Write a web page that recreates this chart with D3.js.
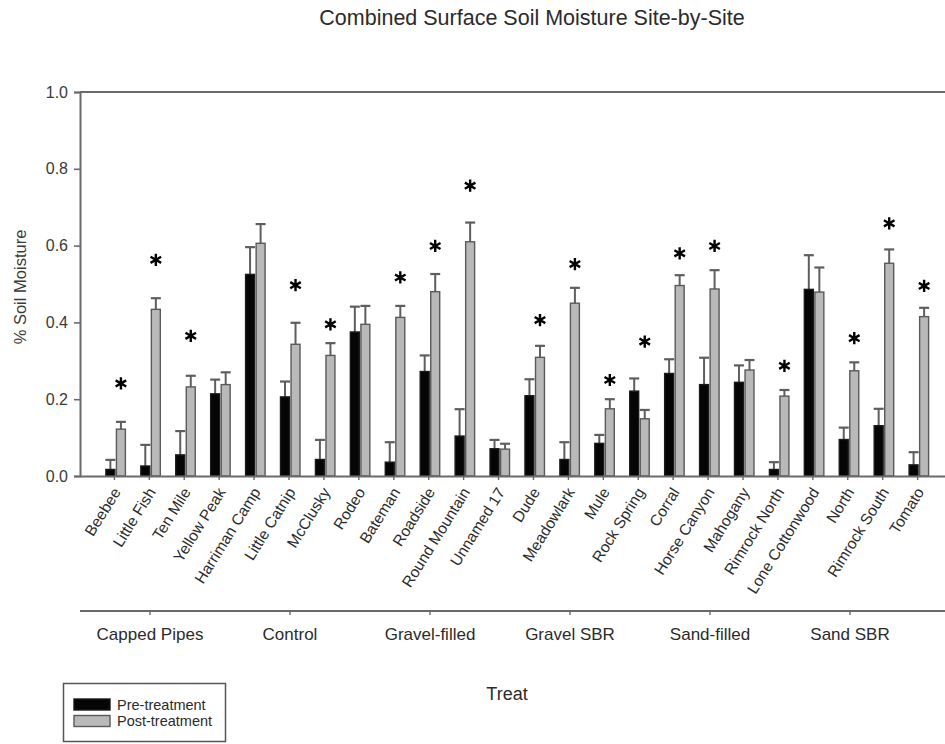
<!DOCTYPE html>
<html>
<head>
<meta charset="utf-8">
<script src="https://cdn.jsdelivr.net/npm/d3@7"></script>
<style>
  html, body { margin: 0; padding: 0; background: #fff; }
  svg { display: block; font-family: "Liberation Sans", Arial, sans-serif; }
</style>
</head>
<body>
<svg id="chart" width="945" height="744"></svg>
<script>
// Sites, in plotting order (grouped by treatment)
const sites = ["Beebee", "Little Fish", "Ten Mile", "Yellow Peak", "Harriman Camp", "Little Catnip",
  "McClusky", "Rodeo", "Bateman", "Roadside", "Round Mountain", "Unnamed 17", "Dude", "Meadowlark",
  "Mule", "Rock Spring", "Corral", "Horse Canyon", "Mahogany", "Rimrock North", "Lone Cottonwood",
  "North", "Rimrock South", "Tomato"];

// Treatment groups shown on the second axis
const groups = ["Capped Pipes", "Control", "Gravel-filled", "Gravel SBR", "Sand-filled", "Sand SBR"];

// Mean surface soil moisture before treatment, and its standard error
const preMean = [0.017, 0.026, 0.055, 0.214, 0.525, 0.206, 0.043, 0.375, 0.036, 0.272, 0.104, 0.071,
  0.209, 0.043, 0.085, 0.221, 0.267, 0.238, 0.244, 0.017, 0.486, 0.095, 0.131, 0.029];
const preErr = [0.025, 0.055, 0.062, 0.037, 0.071, 0.040, 0.051, 0.066, 0.052, 0.042, 0.070, 0.023,
  0.043, 0.045, 0.022, 0.033, 0.037, 0.070, 0.044, 0.019, 0.089, 0.031, 0.044, 0.033];

// Mean surface soil moisture after treatment, and its standard error
const postMean = [0.122, 0.434, 0.232, 0.238, 0.606, 0.343, 0.314, 0.395, 0.413, 0.480, 0.610, 0.070,
  0.309, 0.450, 0.175, 0.149, 0.496, 0.487, 0.276, 0.208, 0.479, 0.274, 0.554, 0.415];
const postErr = [0.019, 0.029, 0.029, 0.032, 0.050, 0.056, 0.032, 0.048, 0.030, 0.046, 0.050, 0.014,
  0.030, 0.040, 0.025, 0.023, 0.027, 0.049, 0.026, 0.016, 0.064, 0.022, 0.036, 0.023];

// Significance markers: height of the asterisk (moisture units), null = not significant
const sigLevel = [0.241, 0.563, 0.365, null, null, 0.497, 0.395, null, 0.517, 0.599, 0.756, null,
  0.406, 0.552, 0.250, 0.350, 0.580, 0.599, null, 0.287, null, 0.359, 0.658, 0.495];

const yTicks = [0.0, 0.2, 0.4, 0.6, 0.8, 1.0];
const seriesNames = ["Pre-treatment", "Post-treatment"];

const svg = d3.select("#chart");
const axisColor = "#6a6a6a";
const textColor = "#2b2b2b";

// Scales
const y = d3.scaleLinear().domain([0, 1]).range([476, 92]);
const x = d3.scaleBand().domain(sites).range([80, 952]).paddingInner(0).paddingOuter(0.485);
const xSub = d3.scaleBand().domain(seriesNames).range([-8.5, 11]).paddingInner(0.15);
const xGroup = d3.scaleBand().domain(groups).range([80, 920]);
const fill = d3.scaleOrdinal().domain(seriesNames).range(["#050505", "#b9b9b9"]);
const stroke = d3.scaleOrdinal().domain(seriesNames).range(["#1a1a1a", "#5a5a5a"]);

const center = s => x(s) + x.bandwidth() / 2;

// Title
svg.append("text")
  .attr("x", 532).attr("y", 25)
  .attr("text-anchor", "middle")
  .attr("font-size", 21.5)
  .attr("fill", textColor)
  .text("Combined Surface Soil Moisture Site-by-Site");

// Bars and error bars
const rows = sites.map((s, i) => ({
  site: s,
  values: [
    { key: "Pre-treatment", v: preMean[i], e: preErr[i] },
    { key: "Post-treatment", v: postMean[i], e: postErr[i] }
  ],
  sig: sigLevel[i]
}));

const siteG = svg.append("g").selectAll("g").data(rows).join("g")
  .attr("transform", d => `translate(${center(d.site)},0)`);

const barG = siteG.selectAll("g.bar").data(d => d.values).join("g").attr("class", "bar");

// error bars first so the bar outline sits over the stem base
barG.append("line")
  .attr("x1", d => xSub(d.key) + xSub.bandwidth() / 2)
  .attr("x2", d => xSub(d.key) + xSub.bandwidth() / 2)
  .attr("y1", d => y(d.v))
  .attr("y2", d => y(d.v + d.e))
  .attr("stroke", "#5e5e5e").attr("stroke-width", 2);
barG.append("line")
  .attr("x1", d => xSub(d.key) + xSub.bandwidth() / 2 - 5)
  .attr("x2", d => xSub(d.key) + xSub.bandwidth() / 2 + 5)
  .attr("y1", d => y(d.v + d.e))
  .attr("y2", d => y(d.v + d.e))
  .attr("stroke", "#5e5e5e").attr("stroke-width", 2.2);

barG.append("rect")
  .attr("x", d => xSub(d.key))
  .attr("width", xSub.bandwidth())
  .attr("y", d => y(d.v))
  .attr("height", d => y(0) - y(d.v))
  .attr("fill", d => fill(d.key))
  .attr("stroke", d => stroke(d.key))
  .attr("stroke-width", 1.4);

// Significance asterisks above the post-treatment bar
const star = d3.symbol().type(d3.symbolAsterisk).size(105);
siteG.filter(d => d.sig !== null)
  .append("path")
  .attr("d", star)
  .attr("transform", d => `translate(${xSub("Post-treatment") + xSub.bandwidth() / 2},${y(d.sig)})`)
  .attr("fill", "none")
  .attr("stroke", "#000")
  .attr("stroke-width", 2.4);

// Top frame line
svg.append("line")
  .attr("x1", 80).attr("x2", 945).attr("y1", y(1)).attr("y2", y(1))
  .attr("stroke", axisColor).attr("stroke-width", 2);

// Y axis
const yAxis = svg.append("g")
  .attr("transform", "translate(80,0)")
  .call(d3.axisLeft(y).tickValues(yTicks).tickFormat(d3.format(".1f")).tickSize(6).tickPadding(6));
yAxis.select(".domain").attr("stroke", axisColor).attr("stroke-width", 2);
yAxis.selectAll(".tick line").attr("stroke", axisColor).attr("stroke-width", 1.6);
yAxis.selectAll(".tick text").attr("font-size", 16).attr("fill", "#3a3a3a")
  .attr("font-family", "Liberation Sans, Arial, sans-serif");

// Site axis
const xAxis = svg.append("g")
  .attr("transform", `translate(0,${y(0)})`)
  .call(d3.axisBottom(x).tickSize(4).tickSizeOuter(0));
xAxis.select(".domain").attr("stroke", axisColor).attr("stroke-width", 2);
xAxis.selectAll(".tick line").attr("stroke", axisColor).attr("stroke-width", 1.4);
xAxis.selectAll(".tick text")
  .attr("font-size", 15.5)
  .attr("fill", textColor)
  .attr("font-family", "Liberation Sans, Arial, sans-serif")
  .attr("text-anchor", "end")
  .attr("x", 0).attr("y", 0).attr("dy", 0)
  .attr("transform", "translate(7,16) rotate(-58)");

// Treatment group axis
const gAxis = svg.append("g")
  .attr("transform", "translate(0,611)")
  .call(d3.axisBottom(xGroup).tickSize(4).tickSizeOuter(0).tickPadding(13));
gAxis.select(".domain").remove();
gAxis.append("line").attr("x1", 80).attr("x2", 945).attr("y1", 0).attr("y2", 0)
  .attr("stroke", axisColor).attr("stroke-width", 2);
gAxis.selectAll(".tick line").attr("stroke", axisColor).attr("stroke-width", 1.4);
gAxis.selectAll(".tick text").attr("font-size", 17).attr("fill", textColor)
  .attr("font-family", "Liberation Sans, Arial, sans-serif");

// Axis titles
svg.append("text")
  .attr("transform", "translate(26,287) rotate(-90)")
  .attr("text-anchor", "middle")
  .attr("font-size", 16.5)
  .attr("fill", "#3a3a3a")
  .text("% Soil Moisture");

svg.append("text")
  .attr("x", 507).attr("y", 700)
  .attr("text-anchor", "middle")
  .attr("font-size", 18)
  .attr("fill", textColor)
  .text("Treat");

// Legend
const legend = svg.append("g");
legend.append("rect")
  .attr("x", 63.5).attr("y", 683.5).attr("width", 162).attr("height", 58)
  .attr("fill", "#fff").attr("stroke", "#555").attr("stroke-width", 1.5);
const li = legend.selectAll("g.item").data(seriesNames).join("g").attr("class", "item")
  .attr("transform", (d, i) => `translate(74,${699 + i * 16.5})`);
li.append("rect").attr("width", 36).attr("height", 11)
  .attr("fill", d => fill(d)).attr("stroke", d => stroke(d)).attr("stroke-width", 1.4);
li.append("text").attr("x", 43).attr("y", 10.5)
  .attr("font-size", 14.5).attr("fill", textColor)
  .text(d => d);
</script>
</body>
</html>
